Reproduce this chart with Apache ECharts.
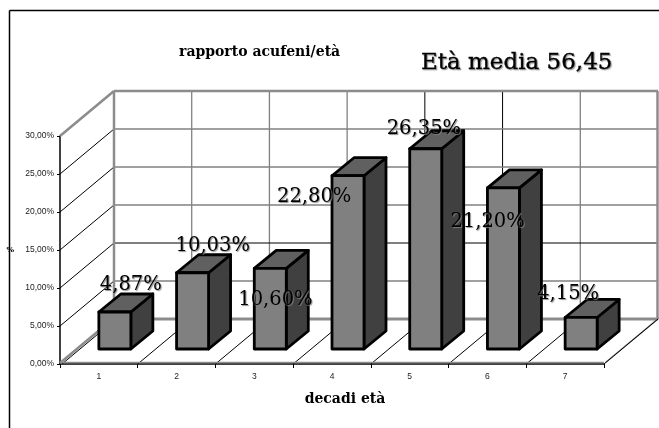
<!DOCTYPE html>
<html><head><meta charset="utf-8">
<style>html,body{margin:0;padding:0;background:#fff}#c{width:659px;height:428px}</style>
<script src="https://cdn.jsdelivr.net/npm/echarts@6/dist/echarts.min.js"></script>
</head><body><div id="c"></div>
<script>
const categories = ['1','2','3','4','5','6','7'];
const values = [4.87, 10.03, 10.60, 22.80, 26.35, 21.20, 4.15];
const valueLabels = ['4,87%','10,03%','10,60%','22,80%','26,35%','21,20%','4,15%'];
const yTicks = [0,5,10,15,20,25,30];
const chartTitle = 'rapporto acufeni/età';
const noteText = 'Età media 56,45';
const xName = 'decadi età';
const yName = '%';

// layout of the fake 3D projection (pixels)
const DEPTH = {dx:54, dy:-45};
const BAR = {offY:-15, w:32, dx:22, dy:-18};
const labelShift = [[1,-42.5],[-1,-41.5],[-16,16],[-55,6],[-23,-34.5],[-37,19.5],[-28,-39]];
const SERIF = '"DejaVu Serif"';

const line = (x1,y1,x2,y2,stroke,lineWidth)=>({type:'line',shape:{x1,y1,x2,y2},style:{stroke,lineWidth,fill:null}});

function renderWalls(params, api){
  const kids=[];
  const n=categories.length;
  const bw=api.size([1,0])[0], x0=api.coord([0,0])[0]-bw/2;
  const yOf=v=>api.coord([0,v])[1];
  const bx=x0+DEPTH.dx, by=yOf(0)+DEPTH.dy, ty=yOf(30)+DEPTH.dy, ex=x0+n*bw;
  for(let i=1;i<n;i++){
    const x=x0+i*bw;
    const c=(i===4||i===5)?'#000':'#808080';
    kids.push(line(x+DEPTH.dx,ty,x+DEPTH.dx,by,c,c==='#000'?1:1.3));
    kids.push(line(x,yOf(0),x+DEPTH.dx,by,'#000',1));
  }
  yTicks.forEach(v=>{
    if(v===0||v===30) return;
    const y=yOf(v);
    const c=v===10?'#000':'#808080';
    kids.push(line(bx,y+DEPTH.dy,ex+DEPTH.dx,y+DEPTH.dy,c,c==='#000'?1:1.5));
    kids.push(line(x0,y,bx,y+DEPTH.dy,'#000',1));
  });
  const g='#8c8c8c';
  kids.push(line(bx,ty,ex+DEPTH.dx,ty,g,2.5));
  kids.push(line(bx,ty,bx,by,g,2.5));
  kids.push(line(bx,by,ex+DEPTH.dx,by,g,3));
  kids.push(line(ex+DEPTH.dx-0.5,ty,ex+DEPTH.dx-0.5,by,g,2.5));
  kids.push(line(x0,yOf(30),bx,ty,g,2.5));
  kids.push(line(x0,yOf(0)-1,bx,by-1,g,2.5));
  kids.push(line(x0+2,yOf(0),bx+2,by,'#000',1));
  kids.push(line(x0,yOf(0)-1.5,ex,yOf(0)-1.5,g,1.5));
  kids.push(line(ex+1.5,yOf(0)-1.5,ex+DEPTH.dx+1.5,by-1.5,g,1.5));
  kids.push(line(ex,yOf(0),ex+DEPTH.dx,by,'#000',1));
  return {type:'group',children:kids};
}
function renderBar(params, api){
  const c=api.coord([api.value(0),api.value(1)]), b=api.coord([api.value(0),0]);
  const x=c[0], t=c[1]+BAR.offY, y=b[1]+BAR.offY, w=BAR.w, dx=BAR.dx, dy=BAR.dy;
  const st=fill=>({fill,stroke:'#000',lineWidth:2.8,lineJoin:'round'});
  return {type:'group',children:[
    {type:'polygon',shape:{points:[[x+w,y],[x+w+dx,y+dy],[x+w+dx,t+dy],[x+w,t]]},style:st('#404040')},
    {type:'polygon',shape:{points:[[x,t],[x+dx,t+dy],[x+w+dx,t+dy],[x+w,t]]},style:st('#606060')},
    {type:'rect',shape:{x,y:t,width:w,height:y-t},style:st('#808080')}
  ]};
}
function renderLabel(params, api){
  const i=api.value(0), c=api.coord([i,api.value(1)]), s=labelShift[i];
  return {type:'text',x:c[0]+s[0],y:c[1]+s[1],style:{text:valueLabels[i],fill:'#000',
    font:'19.5px '+SERIF,textAlign:'left',textVerticalAlign:'middle',
    textShadowColor:'rgba(130,130,130,0.9)',textShadowBlur:1,textShadowOffsetX:1,textShadowOffsetY:1}};
}
const rows=values.map((v,i)=>[i,v]);
const chart=echarts.init(document.getElementById('c'),null,{renderer:'canvas'});
chart.setOption({
  animation:false,
  backgroundColor:'#fff',
  title:{text:chartTitle,left:179,top:45,padding:0,textStyle:{fontFamily:SERIF,fontWeight:'bold',fontSize:14,color:'#000'}},
  grid:{left:60,right:55,top:136,bottom:64},
  xAxis:{type:'category',data:categories,name:xName,nameLocation:'middle',nameGap:28,
    nameTextStyle:{fontFamily:SERIF,fontWeight:'bold',fontSize:14,color:'#000',padding:[0,0,0,26]},
    axisLine:{lineStyle:{color:'#000',width:1.5}},
    axisTick:{show:true,alignWithLabel:false,length:4,lineStyle:{color:'#000'}},
    axisLabel:{fontFamily:'"Liberation Sans"',fontSize:8.5,color:'#222',margin:8},splitLine:{show:false}},
  yAxis:{type:'value',min:0,max:30,interval:5,name:yName,nameLocation:'middle',nameGap:46,nameRotate:0,
    nameTextStyle:{fontFamily:SERIF,fontWeight:'bold',fontSize:8,color:'#000'},
    axisLine:{show:true,lineStyle:{color:'#000',width:1.5}},
    axisTick:{show:true,length:3,lineStyle:{color:'#000'}},
    axisLabel:{fontFamily:'"Liberation Sans"',fontSize:8.5,color:'#222',margin:6,
      formatter:v=>v.toFixed(2).replace('.',',')+'%'},splitLine:{show:false}},
  graphic:[
    {type:'line',shape:{x1:9.5,y1:10.5,x2:659,y2:10.5},style:{stroke:'#000',lineWidth:1.5}},
    {type:'line',shape:{x1:9.5,y1:10.5,x2:9.5,y2:428},style:{stroke:'#000',lineWidth:1.5}},
    {type:'text',x:421,y:63,style:{text:noteText,font:'23px '+SERIF,fill:'#000',stroke:'#000',lineWidth:0.4,textVerticalAlign:'middle',textShadowColor:'rgba(130,130,130,0.8)',textShadowBlur:1,textShadowOffsetX:1,textShadowOffsetY:1}}
  ],
  series:[
    {type:'custom',z:1,data:[[0,0]],renderItem:renderWalls,silent:true},
    {type:'custom',z:2,data:rows,renderItem:renderBar,encode:{x:0,y:1}},
    {type:'custom',z:3,data:rows,renderItem:renderLabel,encode:{x:0,y:1}}
  ]
});
</script></body></html>
